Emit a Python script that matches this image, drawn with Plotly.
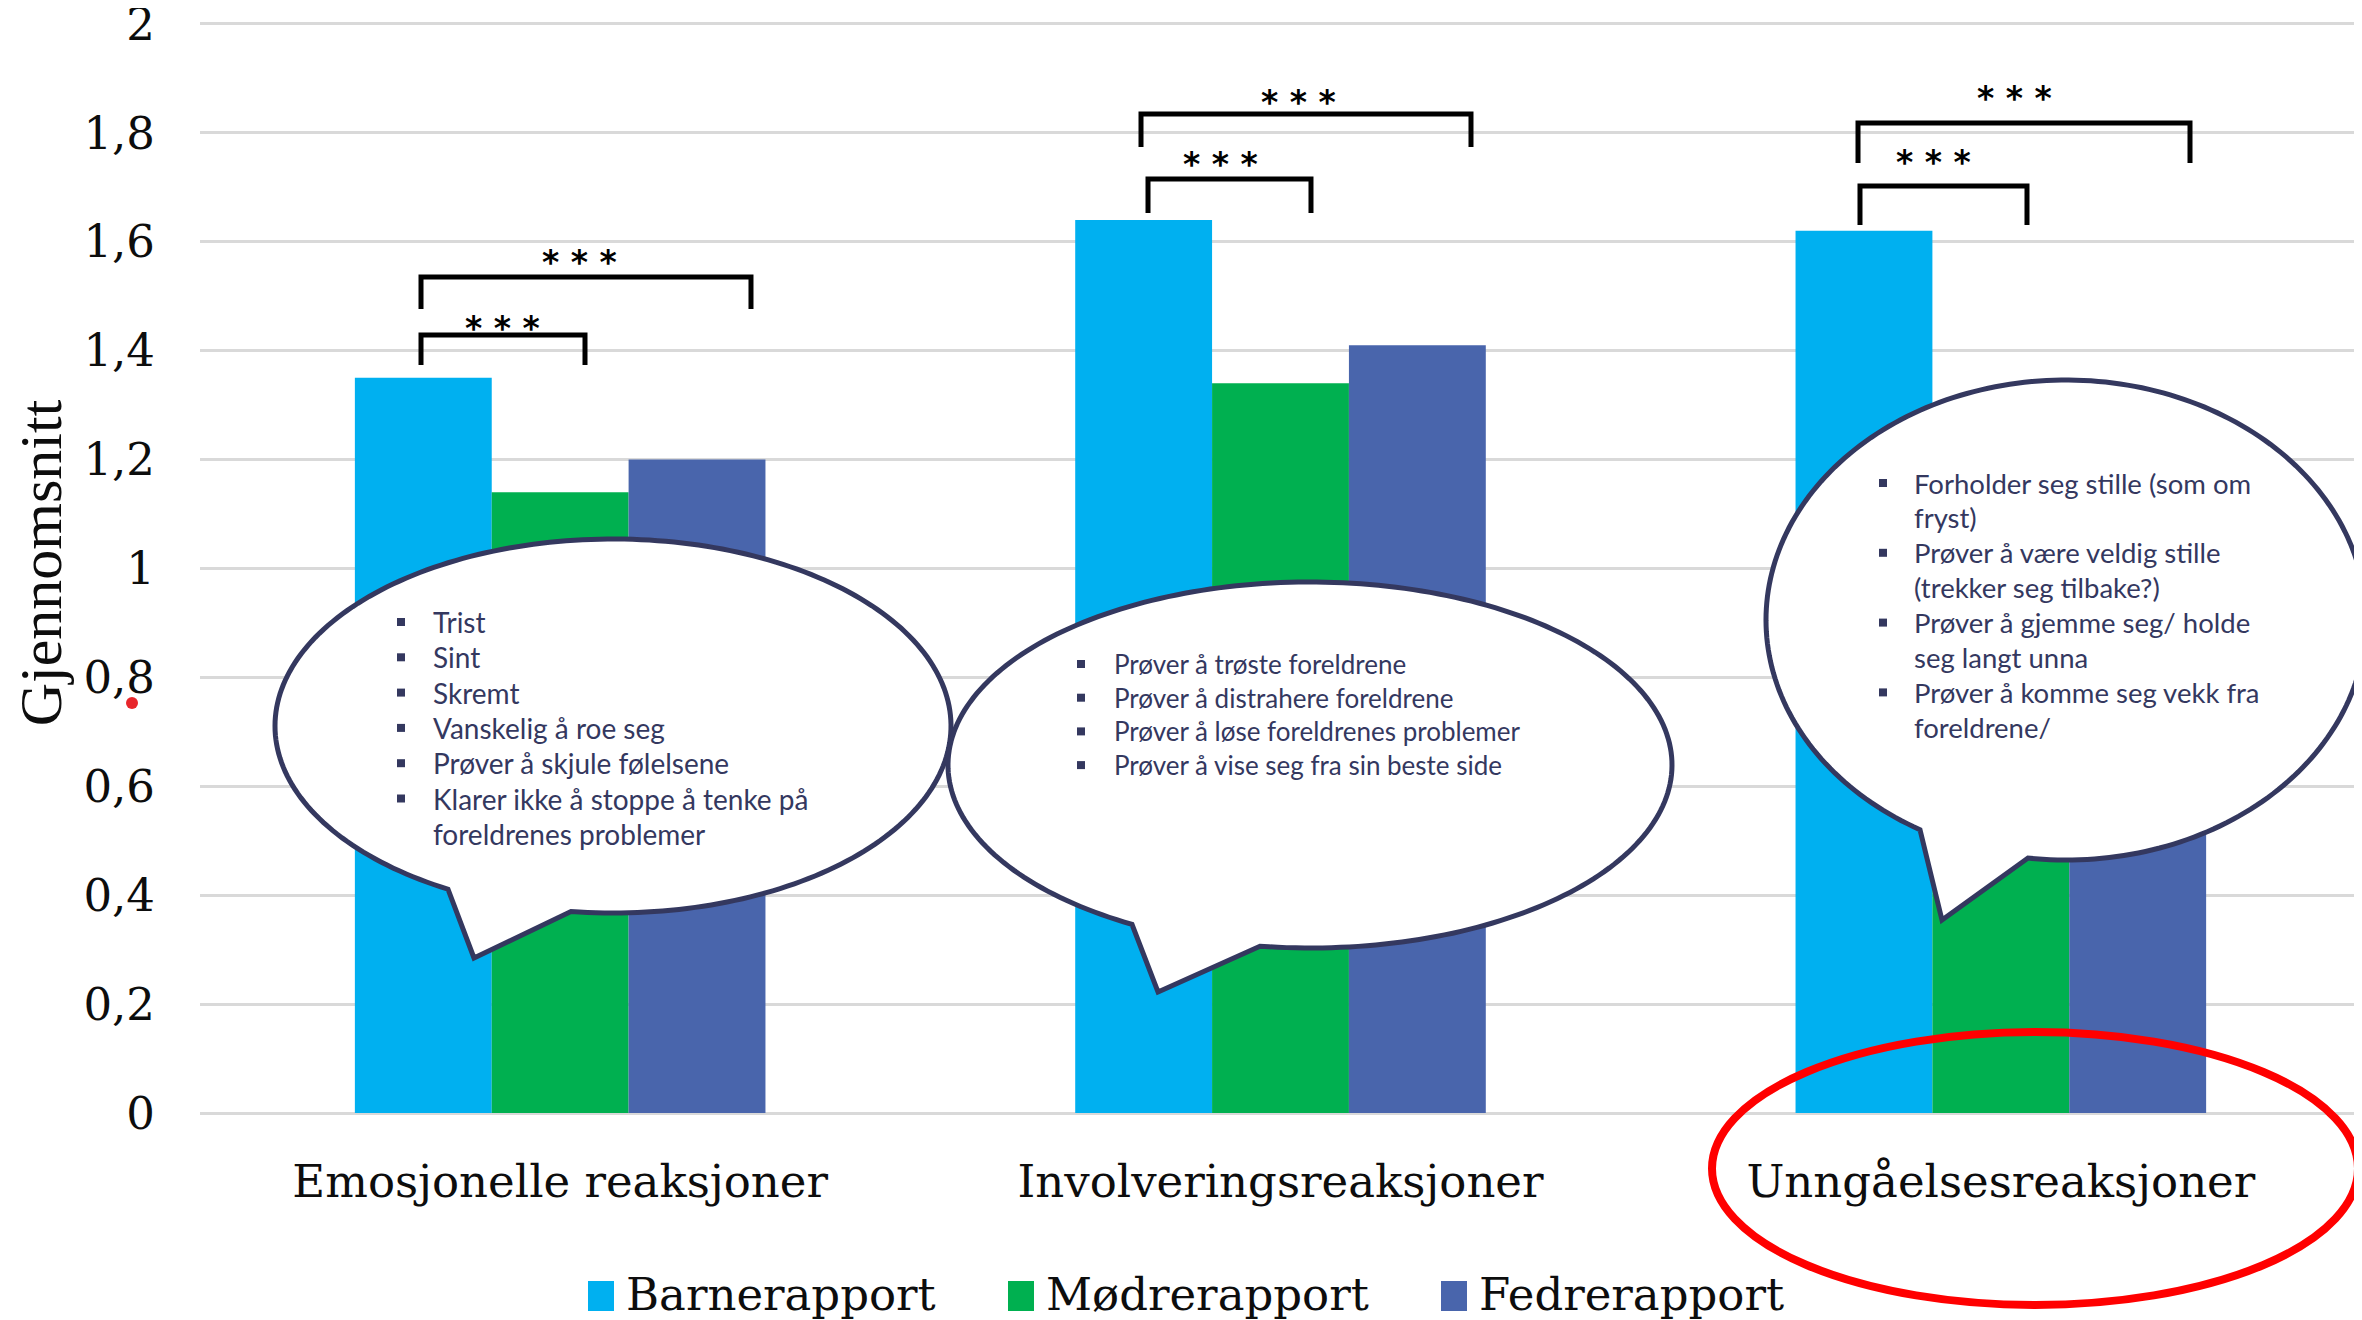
import numpy as np
import plotly.graph_objects as go

# --- data ---
categories = ["Emosjonelle reaksjoner", "Involveringsreaksjoner", "Unngåelsesreaksjoner"]
series_names = ["Barnerapport", "Mødrerapport", "Fedrerapport"]
barn = [1.35, 1.64, 1.62]
modre = [1.14, 1.34, 1.25]   # siste verdi skjules av boblen, anslått
fedre = [1.20, 1.41, 1.30]   # siste verdi skjules av boblen, anslått
colors = ["#00B0F0", "#00B050", "#4965AC"]

emo_items = [["Trist"], ["Sint"], ["Skremt"], ["Vanskelig å roe seg"],
             ["Prøver å skjule følelsene"],
             ["Klarer ikke å stoppe å tenke på", "foreldrenes problemer"]]
inv_items = [["Prøver å trøste foreldrene"], ["Prøver å distrahere foreldrene"],
             ["Prøver å løse foreldrenes problemer"], ["Prøver å vise seg fra sin beste side"]]
unn_items = [["Forholder seg stille (som om", "fryst)"],
             ["Prøver å være veldig stille", "(trekker seg tilbake?)"],
             ["Prøver å gjemme seg/ holde", "seg langt unna"],
             ["Prøver å komme seg vekk fra", "foreldrene/"]]

# --- canvas geometry (pixels, målt i referansebildet) ---
OFF = 8                      # standardmarg i <body>
Y_MAX = 2.02
W, H = 2362 - OFF, 1320 - OFF
L, R, T, B = 200 - OFF, 1, 5, 207
PW, PH = W - L - R, H - T - B


def px(x, y):
    """referansepiksel -> paper"""
    return (x - OFF - L) / PW, (H - B - (y - OFF)) / PH


NAVY = "#34385F"
TEXT_FONT = "Lato, Roboto, sans-serif"

fig = go.Figure()
for name, vals, col in zip(series_names, [barn, modre, fedre], colors):
    fig.add_trace(go.Bar(x=categories, y=vals, name=name, marker_color=col,
                         marker_line_width=0, hoverinfo="x+y+name"))

shapes = []
annotations = []

# signifikans-klammer: (venstre x, høyre x, topp y, bunn y, stjerne x, stjerne y)
brackets = [
    (421, 585, 335, 365, 502, 323), (421, 751, 277, 309, 579, 257),
    (1148, 1311, 179, 213, 1220, 159), (1141, 1471, 114, 147, 1298, 97),
    (1860, 2027, 186, 225, 1933, 157), (1858, 2190, 123, 163, 2014, 93),
]
for x1, x2, yt, yb, sx, sy in brackets:
    pts = [px(x1, yb), px(x1, yt), px(x2, yt), px(x2, yb)]
    path = "M" + " L".join(f"{a:.5f},{b:.5f}" for a, b in pts)
    shapes.append(dict(type="path", xref="paper", yref="paper", path=path,
                       line=dict(color="black", width=5), layer="above"))
    ax, ay = px(sx, sy - 16)
    annotations.append(dict(x=ax, y=ay, xref="paper", yref="paper", text="<b>* * *</b>",
                            xanchor="center", yanchor="top", showarrow=False,
                            font=dict(family="DejaVu Sans", size=33, color="black")))

# snakkebobler
bubbles = [
    dict(cx=613, cy=726, rx=338, ry=187, jl=448, jr=571, tip=(474, 958),
         tx=431, bx=401, y0=622, step=35.3, size=28, items=emo_items),
    dict(cx=1310, cy=765, rx=362, ry=183, jl=1132, jr=1260, tip=(1158, 992),
         tx=1112, bx=1081, y0=664, step=33.7, size=26, items=inv_items),
    dict(cx=2066, cy=620, rx=300, ry=240, jl=1920, jr=2028, tip=(1942, 920),
         tx=1912, bx=1883, y0=483, step=34.9, size=27.5, items=unn_items),
]
for b in bubbles:
    tl = np.arccos((b["jl"] - b["cx"]) / b["rx"])
    tr = np.arccos((b["jr"] - b["cx"]) / b["rx"])
    ts = np.linspace(tr, tl - 2 * np.pi, 240)
    pts = [px(*b["tip"])] + [px(b["cx"] + b["rx"] * np.cos(t), b["cy"] + b["ry"] * np.sin(t)) for t in ts]
    path = "M" + " L".join(f"{a:.5f},{c:.5f}" for a, c in pts) + " Z"
    shapes.append(dict(type="path", xref="paper", yref="paper", path=path,
                       fillcolor="white", line=dict(color=NAVY, width=5), layer="above"))
    i = 0
    for item in b["items"]:
        y = b["y0"] + i * b["step"]
        qx0, qy0 = px(b["bx"] - 4, y - 4)
        qx1, qy1 = px(b["bx"] + 4, y + 4)
        shapes.append(dict(type="rect", xref="paper", yref="paper", x0=qx0, y0=qy0, x1=qx1, y1=qy1,
                           fillcolor=NAVY, line_width=0, layer="above"))
        for line in item:
            ax, ay = px(b["tx"], b["y0"] + i * b["step"])
            annotations.append(dict(x=ax, y=ay, xref="paper", yref="paper", text=line,
                                    xanchor="left", yanchor="middle", showarrow=False,
                                    font=dict(family=TEXT_FONT, size=b["size"], color=NAVY)))
            i += 1

# rød ring rundt siste kategori
ex0, ey0 = px(1712, 1305)
ex1, ey1 = px(2358, 1032)
shapes.append(dict(type="circle", xref="paper", yref="paper", x0=ex0, y0=ey0, x1=ex1, y1=ey1,
                   line=dict(color="#FF0000", width=8), layer="above"))
# liten rød prikk ved 0,8
dx0, dy0 = px(126, 709)
dx1, dy1 = px(138, 697)
shapes.append(dict(type="circle", xref="paper", yref="paper", x0=dx0, y0=dy0, x1=dx1, y1=dy1,
                   fillcolor="#E8262B", line_width=0, layer="above"))

# egen legende med store fargeblokker
legend_x = [588, 1008, 1441]
for name, col, lx in zip(series_names, colors, legend_x):
    sx0, sy0 = px(lx, 1311)
    sx1, sy1 = px(lx + 26, 1281)
    shapes.append(dict(type="rect", xref="paper", yref="paper", x0=sx0, y0=sy0, x1=sx1, y1=sy1,
                       fillcolor=col, line_width=0))
    ax, ay = px(lx + 36, 1294)
    annotations.append(dict(x=ax, y=ay, xref="paper", yref="paper", text=name, xanchor="left",
                            yanchor="middle", showarrow=False,
                            font=dict(family="DejaVu Serif", size=45, color="#0D0D0D")))

fig.update_layout(
    width=W, height=H,
    margin=dict(l=L, r=R, t=T, b=B, autoexpand=False),
    paper_bgcolor="white", plot_bgcolor="white",
    barmode="group", bargap=0.43, bargroupgap=0,
    showlegend=False, separators=",.",
    font=dict(family="DejaVu Serif", size=45, color="#0D0D0D"),
    shapes=shapes, annotations=annotations,
)
fig.update_xaxes(showgrid=False, showline=False, ticks="", ticklabelstandoff=38, automargin=False,
                 tickfont=dict(family="DejaVu Serif", size=45, color="#0D0D0D"))
fig.update_yaxes(range=[0, Y_MAX], tick0=0, dtick=0.2, showgrid=True, gridcolor="#D9D9D9", gridwidth=3,
                 zeroline=True, zerolinecolor="#D9D9D9", zerolinewidth=3, ticks="",
                 ticklabeloverflow="allow", automargin=False,
                 ticklabelstandoff=44, tickfont=dict(family="DejaVu Serif", size=45, color="#0D0D0D"),
                 title=dict(text="Gjennomsnitt", standoff=24,
                            font=dict(family="Liberation Serif", size=60, color="#0D0D0D")))

fig.write_html("out.html")
